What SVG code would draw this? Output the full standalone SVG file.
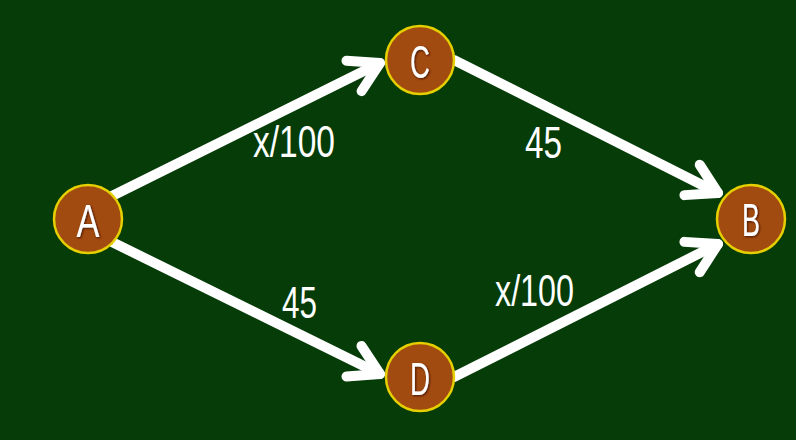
<svg xmlns="http://www.w3.org/2000/svg" width="796" height="440" viewBox="0 0 796 440">
<style>
.node circle{fill:#a24b10;stroke:#e6cf00;stroke-width:2.5}
.node text{font-family:"Liberation Sans",Arial,sans-serif;font-size:46px;fill:#ffffff;text-anchor:middle;filter:url(#sh)}
.edge{stroke:#ffffff;stroke-width:10;stroke-linecap:round;fill:none;marker-end:url(#arr)}
.lbl{font-family:"Liberation Sans",Arial,sans-serif;font-size:44px;fill:#ffffff}
</style>
<defs>
<marker id="arr" markerUnits="userSpaceOnUse" markerWidth="60" markerHeight="60" refX="0" refY="0" viewBox="-40 -30 50 60" orient="auto" overflow="visible">
<path d="M-29,-17 L0,0 L-29,17" fill="none" stroke="#ffffff" stroke-width="10" stroke-linecap="round" stroke-linejoin="round"/>
</marker>
<filter id="sh" x="-50%" y="-50%" width="200%" height="200%">
<feDropShadow dx="1" dy="1" stdDeviation="0.8" flood-color="#3a1000" flood-opacity="0.9"/>
</filter>
</defs>
<rect width="796" height="440" fill="#053c08"/>
<g id="connectors">
<line class="edge" x1="112" y1="196" x2="380" y2="63"/>
<line class="edge" x1="454" y1="60" x2="718" y2="193"/>
<line class="edge" x1="112" y1="242" x2="380" y2="374"/>
<line class="edge" x1="454" y1="377" x2="718" y2="244"/>
</g>
<g id="labels">
<text class="lbl" x="253" y="157" textLength="82" lengthAdjust="spacingAndGlyphs">x/100</text>
<text class="lbl" x="525" y="158" textLength="37" lengthAdjust="spacingAndGlyphs">45</text>
<text class="lbl" x="282" y="318" textLength="35" lengthAdjust="spacingAndGlyphs">45</text>
<text class="lbl" x="495" y="306" textLength="79" lengthAdjust="spacingAndGlyphs">x/100</text>
</g>
<g id="node-A" class="node"><circle cx="88" cy="219" r="34"/><text x="88" y="237" textLength="23" lengthAdjust="spacingAndGlyphs">A</text></g>
<g id="node-C" class="node"><circle cx="420" cy="60" r="34"/><text x="420" y="78" textLength="20" lengthAdjust="spacingAndGlyphs">C</text></g>
<g id="node-B" class="node"><circle cx="751" cy="219" r="34"/><text x="751" y="236" textLength="18" lengthAdjust="spacingAndGlyphs">B</text></g>
<g id="node-D" class="node"><circle cx="420" cy="377" r="34"/><text x="420" y="395" textLength="20" lengthAdjust="spacingAndGlyphs">D</text></g>
</svg>
